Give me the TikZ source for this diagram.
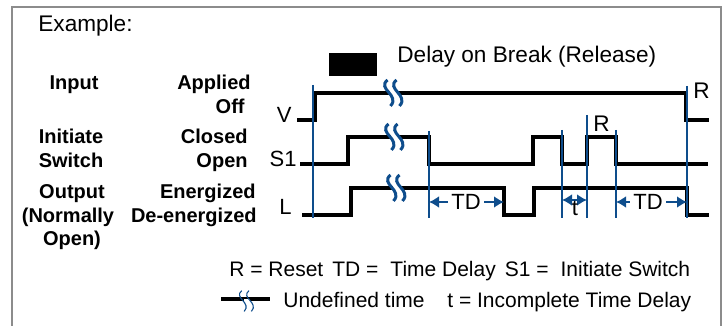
\documentclass[tikz,border=0pt]{standalone}
\usepackage{fontspec}
\setmainfont{Liberation Sans}
\usepackage{tikz}
\usetikzlibrary{arrows.meta,positioning}
\definecolor{markblue}{HTML}{0E4D8C}
\definecolor{framegray}{HTML}{8C8C8C}
\tikzset{
>={Latex[length=5pt,width=6pt]},
frame line/.style={draw=framegray, line width=0.75pt},
sig line/.style={draw=black, line width=2pt, line join=miter},
mark line/.style={draw=markblue, line width=1pt},
td arrow/.style={draw=markblue, line width=1.1pt},
brk mark/.style={line width=1.5pt},
brk mark small/.style={line width=0.55pt, scale=0.8},
brk pair/.pic={
  \fill[white] (-4,-3) rectangle (4,3);
  \foreach \dx in {-4.5,4.5}
    \draw[markblue] (\dx-2,-13) .. controls (\dx-13,-4) and (\dx+11,2) .. (\dx+1,13);
},
title text/.style={font=\fontsize{11.3}{13}\selectfont, inner sep=0pt, anchor=base west},
sig name/.style={font=\fontsize{11}{13}\selectfont, inner sep=0pt, anchor=base east},
row label/.style={font=\fontsize{10}{12}\selectfont\bfseries, inner sep=0pt, anchor=base},
state label/.style={font=\fontsize{10}{12}\selectfont\bfseries, inner sep=0pt, anchor=base east},
td label/.style={font=\fontsize{11}{13}\selectfont, inner sep=1.5pt},
legend text/.style={font=\fontsize{10.5}{13}\selectfont, inner sep=0pt, anchor=base west}
}

\begin{document}
\begin{tikzpicture}[x=0.5pt,y=-0.5pt]
\useasboundingbox (0,0) rectangle (725,326);
\draw[frame line] (12,340) -- (12,7) -- (721,7) -- (721,340);

% heading
\node[title text] (example) at (38,32) {Example:};
\node[title text] (mode) at (397,63) {Delay on Break (Release)};
\fill (329,53) rectangle (377,76);

% row labels
\node[row label] (input) at (74,90) {Input};
\node[row label] (initiate) at (71,144) {Initiate};
\node[row label] (switch) at (71,168) {Switch};
\node[row label] (output) at (72,199) {Output};
\node[row label] (normally) at (68,223) {(Normally};
\node[row label] (open2) at (72,246) {Open)};
\node[state label] (applied) at (251,90) {Applied};
\node[state label] (off) at (245,114) {Off};
\node[state label] (closed) at (248,144) {Closed};
\node[state label] (open) at (248,168) {Open};
\node[state label] (energized) at (256,199) {Energized};
\node[state label] (deenergized) at (257,223) {De-energized};
\node[sig name] (v) at (292,123) {V};
\node[sig name] (s1) at (297,167) {S1};
\node[sig name] (l) at (292,215) {L};

% signals
\draw[sig line] (297,120) -- (315,120) -- (315,93) -- (686,93) -- (686,120) -- (709,120);
\draw[sig line] (300,164) -- (348,164) -- (348,137) -- (429,137) -- (429,164) -- (533,164)
  -- (533,137) -- (562,137) -- (562,164) -- (587,164) -- (587,137) -- (616,137)
  -- (616,164) -- (708,164);
\draw[sig line] (302,215) -- (351,215) -- (351,188) -- (504,188) -- (504,215) -- (534,215)
  -- (534,188) -- (687,188) -- (687,215) -- (709,215);

% timing marks
\foreach \x/\top/\n in {313/85/1,429/131/2,562/130/3,587/115/4,616/130/5,687/86/6} {
\coordinate (mk\n) at (\x,218);
\draw[mark line] (\x,\top) -- (mk\n);
}
\coordinate (fall1) at (504,218);
\node[title text] (r1) at (693,99) {R};
\node[title text] (r2) at (593,132) {R};

% breaks
\pic[brk mark] at (394,93) {brk pair};
\pic[brk mark] at (395,137) {brk pair};
\pic[brk mark] at (397,188) {brk pair};

% delays
\node[td label] (td1) at (466,202) {TD};
\draw[td arrow,->] (td1.west) -- (td1.west -| mk2);
\draw[td arrow,->] (td1.east) -- (td1.east -| fall1);
\node[td label] (td2) at (648,202) {TD};
\draw[td arrow,->] (td2.west) -- (td2.west -| mk5);
\draw[td arrow,->] (td2.east) -- (td2.east -| mk6);
\coordinate (tl) at (562,200);
\coordinate (tr) at (587,200);
\draw[td arrow,<->] (tl) -- (tr);
\node[td label,inner sep=0pt] (t) at (575,208) {t};

% legend
\node[legend text] (leg1) at (229,277) {R = Reset\hspace{4.5pt}TD =\hspace{6pt}Time Delay\hspace{4.5pt}S1 =\hspace{6pt}Initiate Switch};
\coordinate (undefl) at (221,299);
\coordinate (undefr) at (270,299);
\draw[line width=2pt] (undefl) -- (undefr);
\pic[brk mark small] at (247,301) {brk pair};
\node[legend text] (leg2) at (283,308) {Undefined time};
\node[legend text] (leg3) at (447,308) {t = Incomplete Time Delay};
\end{tikzpicture}
\end{document}
